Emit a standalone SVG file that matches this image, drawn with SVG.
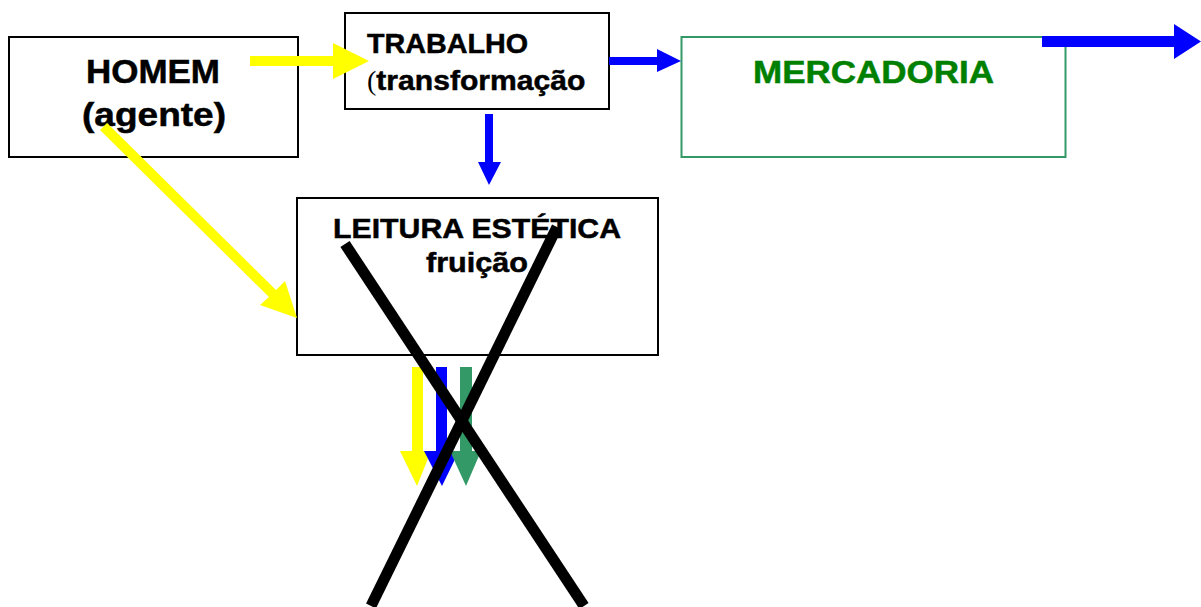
<svg xmlns="http://www.w3.org/2000/svg" width="1201" height="607" viewBox="0 0 1201 607">
<style>
.box{fill:#fff;stroke:#000;stroke-width:2}
.t{font-family:"Liberation Sans",Arial,sans-serif;font-weight:bold;fill:#000;stroke:#000;stroke-width:0.5}
.cross{stroke:#000;stroke-width:11;stroke-linecap:butt}
</style>
<rect width="1201" height="607" fill="#fff"/>
<g id="homem">
<rect class="box" x="9" y="37" width="289" height="120"/>
<text class="t" x="153" y="83" font-size="33" text-anchor="middle" textLength="134" lengthAdjust="spacingAndGlyphs">HOMEM</text>
<text class="t" x="154" y="126" font-size="33" text-anchor="middle" textLength="144" lengthAdjust="spacingAndGlyphs">(agente)</text>
</g>
<g id="trabalho">
<rect class="box" x="345" y="13" width="264" height="96"/>
<text class="t" x="367" y="53" font-size="28" textLength="161" lengthAdjust="spacingAndGlyphs">TRABALHO</text>
<text x="367" y="90" font-size="28"><tspan font-family="Liberation Serif,serif" fill="#000">(</tspan><tspan class="t" textLength="209" lengthAdjust="spacingAndGlyphs">transformação</tspan></text>
</g>
<g id="mercadoria">
<rect x="681.5" y="37" width="384" height="120" fill="#fff" stroke="#339966" stroke-width="2"/>
<text x="873.5" y="83" font-size="32" text-anchor="middle" font-family="Liberation Sans,Arial,sans-serif" font-weight="bold" fill="#008000" stroke="#008000" stroke-width="0.5" textLength="241" lengthAdjust="spacingAndGlyphs">MERCADORIA</text>
</g>
<g id="leitura">
<rect class="box" x="297" y="198" width="361" height="157"/>
<text class="t" x="477" y="238" font-size="28" text-anchor="middle" stroke-width="1" textLength="288" lengthAdjust="spacingAndGlyphs">LEITURA ESTÉTICA</text>
<text class="t" x="477" y="272" font-size="28" text-anchor="middle" stroke-width="1" textLength="102" lengthAdjust="spacingAndGlyphs">fruição</text>
</g>
<g id="connectors">
<polygon fill="#ffff00" points="250,56 333,56 333,43 369,61 333,79 333,66 250,66"/>
<polygon fill="#0000ff" points="609,57 657,57 657,49 681,61 657,72 657,65 609,65"/>
<polygon fill="#0000ff" points="485,114 493,114 493,162 501,162 489,185 478,162 485,162"/>
<polygon fill="#0000ff" points="1042,36 1174,36 1174,24 1201,41.5 1174,59 1174,47 1042,47"/>
<polygon fill="#ffff00" points="100,130 107,123 276,290 285,281 297,318 260,305 269,297"/>
<polygon fill="#ffff00" points="412,367 423,367 423,451 431,451 417,486 400,451 412,451"/>
<polygon fill="#0000ff" points="436,367 447,367 447,451 459,451 442,486 424,451 436,451"/>
<polygon fill="#339966" points="460,367 472,367 472,451 481,451 466,486 450,451 460,451"/>
<line class="cross" x1="345" y1="244" x2="584" y2="606"/>
<line class="cross" x1="557" y1="227" x2="371" y2="606"/>
</g>
</svg>
